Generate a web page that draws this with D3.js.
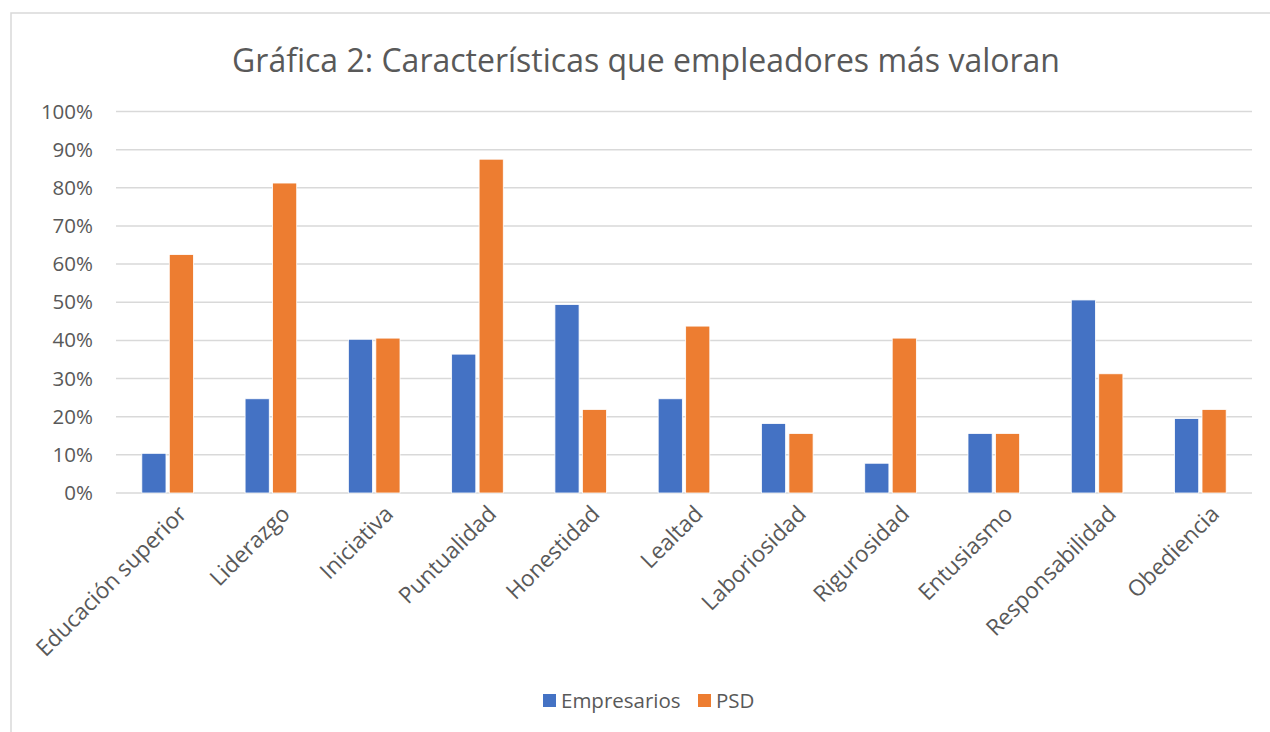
<!DOCTYPE html>
<html>
<head>
<meta charset="utf-8">
<script src="https://cdn.jsdelivr.net/npm/d3@7"></script>
<style>
  body { margin: 0; background: #fff; }
  svg text { font-family: "Open Sans", "Noto Sans", sans-serif; fill: #595959; }
</style>
</head>
<body>
<div id="chart"></div>
<script>
// data (share of respondents)
var categories = ["Educación superior", "Liderazgo", "Iniciativa", "Puntualidad", "Honestidad",
  "Lealtad", "Laboriosidad", "Rigurosidad", "Entusiasmo", "Responsabilidad", "Obediencia"];
var seriesNames = ["Empresarios", "PSD"];
var empresarios = [0.104, 0.247, 0.403, 0.364, 0.494, 0.247, 0.182, 0.078, 0.156, 0.506, 0.195];
var psd = [0.625, 0.8125, 0.406, 0.875, 0.219, 0.4375, 0.156, 0.406, 0.156, 0.3125, 0.219];
var yTicks = [0, 0.1, 0.2, 0.3, 0.4, 0.5, 0.6, 0.7, 0.8, 0.9, 1];
var colors = ["#4472C4", "#ED7D31"];

var width = 1270, height = 732;
var margin = {top: 111.5, left: 116, right: 18, bottom: 239};

var svg = d3.select("#chart").append("svg")
  .attr("width", width)
  .attr("height", height);

// chart frame
svg.append("rect")
  .attr("x", 11).attr("y", 13)
  .attr("width", width).attr("height", height)
  .attr("fill", "#fff")
  .attr("stroke", "#d9d9d9")
  .attr("stroke-width", 1.5);

svg.append("text")
  .attr("x", 646).attr("y", 72)
  .attr("text-anchor", "middle")
  .style("font-size", "32px")
  .text("Gráfica 2: Características que empleadores más valoran");

var x = d3.scaleBand()
  .domain(categories)
  .range([margin.left, width - margin.right])
  .paddingInner(0.5)
  .paddingOuter(0.25);

var x1 = d3.scaleBand()
  .domain(seriesNames)
  .range([0, x.bandwidth()])
  .paddingInner(0.12);

var y = d3.scaleLinear()
  .domain([0, 1])
  .range([height - margin.bottom, margin.top]);

// gridlines
svg.append("g")
  .selectAll("line")
  .data(yTicks)
  .enter().append("line")
  .attr("x1", margin.left)
  .attr("x2", width - margin.right)
  .attr("y1", function(d) { return y(d); })
  .attr("y2", function(d) { return y(d); })
  .attr("stroke", "#d9d9d9")
  .attr("stroke-width", 1.5);

// y axis labels
var yAxis = svg.append("g")
  .attr("transform", "translate(" + (margin.left - 23) + ",0)")
  .call(d3.axisLeft(y).tickValues(yTicks).tickFormat(d3.format(".0%")).tickSize(0));
yAxis.select(".domain").remove();
yAxis.selectAll("text")
  .style("font-size", "20.5px")
  .attr("x", 0)
  .attr("fill", "#595959");

// bars
var rows = categories.map(function(c, i) {
  return {cat: c, values: [{key: seriesNames[0], v: empresarios[i]}, {key: seriesNames[1], v: psd[i]}]};
});

var groups = svg.append("g")
  .selectAll("g")
  .data(rows)
  .enter().append("g")
  .attr("transform", function(d) { return "translate(" + x(d.cat) + ",0)"; });

groups.selectAll("rect")
  .data(function(d) { return d.values; })
  .enter().append("rect")
  .attr("x", function(d) { return x1(d.key); })
  .attr("width", x1.bandwidth())
  .attr("y", function(d) { return y(d.v); })
  .attr("height", function(d) { return y(0) - y(d.v); })
  .attr("fill", function(d, i) { return colors[i]; })
  .attr("stroke", "#fff")
  .attr("stroke-width", 0.8);

// x axis labels, rotated
var xAxis = svg.append("g")
  .attr("transform", "translate(0," + y(0) + ")")
  .call(d3.axisBottom(x).tickSize(0));
xAxis.select(".domain").remove();
xAxis.selectAll("text")
  .style("font-size", "22.5px")
  .attr("fill", "#595959")
  .attr("text-anchor", "end")
  .attr("transform", "translate(9,11) rotate(-45)")
  .attr("x", 0).attr("y", 0).attr("dy", "0.71em");

// legend
var legend = svg.append("g")
  .attr("transform", "translate(543,701)");
var items = legend.selectAll("g")
  .data(seriesNames)
  .enter().append("g")
  .attr("transform", function(d, i) { return "translate(" + (i * 155) + ",0)"; });
items.append("rect")
  .attr("x", 0).attr("y", -7)
  .attr("width", 13).attr("height", 13)
  .attr("fill", function(d, i) { return colors[i]; });
items.append("text")
  .attr("x", 18).attr("y", 0)
  .attr("dy", "0.35em")
  .style("font-size", "20.5px")
  .text(function(d) { return d; });
</script>
</body>
</html>
